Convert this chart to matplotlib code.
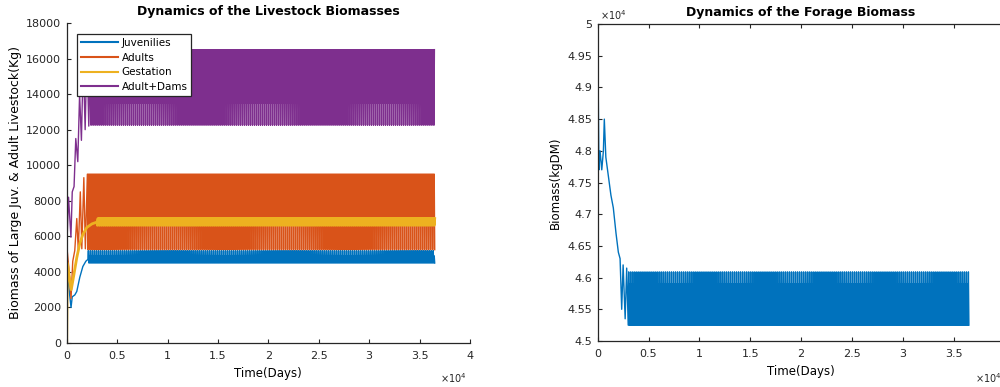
import matplotlib as mpl
mpl.use('Agg')
import matplotlib.pyplot as plt
from matplotlib.ticker import FuncFormatter
import numpy as np

plt.rcParams['font.family'] = ['DejaVu Sans']

# ---- data (days, kg) ----
t_end = 36500.
period = 200.

# transient part of each series (zigzag turning points)
juv_t = [0, 200, 430, 550, 800, 1000, 1300, 1600, 1900, 2100]
juv_v = [4500, 3200, 2000, 2600, 2700, 2900, 3700, 4300, 4600, 4700]
# turning points of one steady cycle
juv_cycle = [5200, 4500, 4900, 4500]

adu_t = [0, 200, 430, 600, 800, 1000, 1150, 1350, 1500, 1700, 1850, 2050]
adu_v = [5500, 4300, 2500, 4600, 5200, 7000, 5200, 8500, 5300, 9300, 5300, 9500]
adu_cycle = [5250, 9500, 6700, 9500]

ges_t = [0, 60, 450, 700, 1000, 1300, 1600, 2000, 2500, 3000]
ges_v = [0, 4500, 3000, 3800, 4800, 5600, 6100, 6500, 6700, 6800]
ges_cycle = [6620, 7000, 6750, 7000]

dam_t = [0, 180, 420, 550, 730, 900, 1100, 1280, 1460, 1640, 1830, 2010, 2190, 2370]
dam_v = [5200, 8200, 5950, 8500, 8800, 11500, 10200, 14000, 11400, 16000,
         12000, 16500, 12200, 16500]
dam_cycle = [12250, 16500, 13500, 16500]

for_t = [0, 120, 230, 400, 560, 650, 800, 1045, 1300, 1535, 1800, 2030,
         2200, 2360, 2500, 2700, 2850, 3000]
for_v = [50000, 47700, 48000, 47700, 48000, 48500, 47900, 47600, 47300,
         47100, 46700, 46400, 46300, 45500, 46200, 45350, 46150, 45250]
for_cycle = [46090, 45250, 45900, 45250]

c_blue = '#0072BD'
c_orange = '#D95319'
c_yellow = '#EDB120'
c_purple = '#7E2F8E'


def series(ts, vs, cycle):
    # transient points, then the steady cycle repeated up to the end
    t = list(ts)
    v = list(vs)
    step = period / len(cycle)
    tt = t[-1] + step
    k = 0
    while tt <= t_end:
        t.append(tt)
        v.append(cycle[k % len(cycle)])
        tt += step
        k += 1
    return np.array(t), np.array(v)


fig = plt.figure(figsize=(10, 3.87), dpi=100)
ax1 = fig.add_axes([0.0667, 0.1137, 0.4033, 0.8269])
ax2 = fig.add_axes([0.5977, 0.1189, 0.4068, 0.819])

lw = 1.0
t, v = series(juv_t, juv_v, juv_cycle)
ax1.plot(t, v, color=c_blue, lw=lw, label='Juvenilies')
t, v = series(adu_t, adu_v, adu_cycle)
ax1.plot(t, v, color=c_orange, lw=lw, label='Adults')
t, v = series(ges_t, ges_v, ges_cycle)
ax1.plot(t, v, color=c_yellow, lw=2.0, label='Gestation')
t, v = series(dam_t, dam_v, dam_cycle)
ax1.plot(t, v, color=c_purple, lw=lw, label='Adult+Dams')

t, v = series(for_t, for_v, for_cycle)
ax2.plot(t, v, color=c_blue, lw=lw)

fmt = FuncFormatter(lambda x, p: '{:g}'.format(x / 1e4))
for ax in (ax1, ax2):
    ax.set_xlim(0, 40000)
    ax.set_xticks(np.arange(0, 40001, 5000))
    ax.xaxis.set_major_formatter(fmt)
    ax.tick_params(direction='in', length=3, width=0.8, labelsize=8,
                   colors='#262626', pad=6)
    ax.tick_params(axis='y', pad=4)
    for s in ax.spines.values():
        s.set_linewidth(0.9)
        s.set_color('#262626')
    ax.set_xlabel('Time(Days)', fontsize=8.5, labelpad=4)

ax1.text(0.926, -0.109, r'$\times10^4$', transform=ax1.transAxes,
         fontsize=7, ha='left', va='center', color='#262626')
ax2.text(0.927, -0.117, r'$\times10^4$', transform=ax2.transAxes,
         fontsize=7, ha='left', va='center', color='#262626')

ax1.set_ylim(0, 18000)
ax1.set_yticks(np.arange(0, 18001, 2000))
ax1.spines['top'].set_visible(False)
ax1.spines['right'].set_visible(False)
ax1.set_ylabel('Biomass of Large Juv. & Adult Livestock(Kg)', fontsize=9,
               labelpad=3)
ax1.set_title('Dynamics of the Livestock Biomasses', fontsize=9,
              fontweight='bold', pad=6)
leg = ax1.legend(loc='upper left', bbox_to_anchor=(0.026, 0.965), fontsize=7.5,
                 frameon=True, fancybox=False, edgecolor='#262626',
                 framealpha=1, handlelength=3.6, handletextpad=0.3,
                 borderpad=0.35, labelspacing=0.45, borderaxespad=0)
leg.get_frame().set_linewidth(0.9)
for h in leg.get_lines():
    h.set_linewidth(1.5)

ax2.set_ylim(45000, 50000)
ax2.set_yticks(np.arange(45000, 50001, 500))
ax2.yaxis.set_major_formatter(FuncFormatter(lambda x, p: '{:g}'.format(x / 1e4)))
ax2.tick_params(top=True, right=True)
ax2.set_ylabel('Biomass(kgDM)', fontsize=8.5, labelpad=4)
ax2.set_title('Dynamics of the Forage Biomass', fontsize=9,
              fontweight='bold', pad=6)
ax2.text(0.005, 1.028, r'$\times10^4$', transform=ax2.transAxes,
         fontsize=7, ha='left', va='center', color='#262626')

fig.savefig('out.png', dpi=100)
